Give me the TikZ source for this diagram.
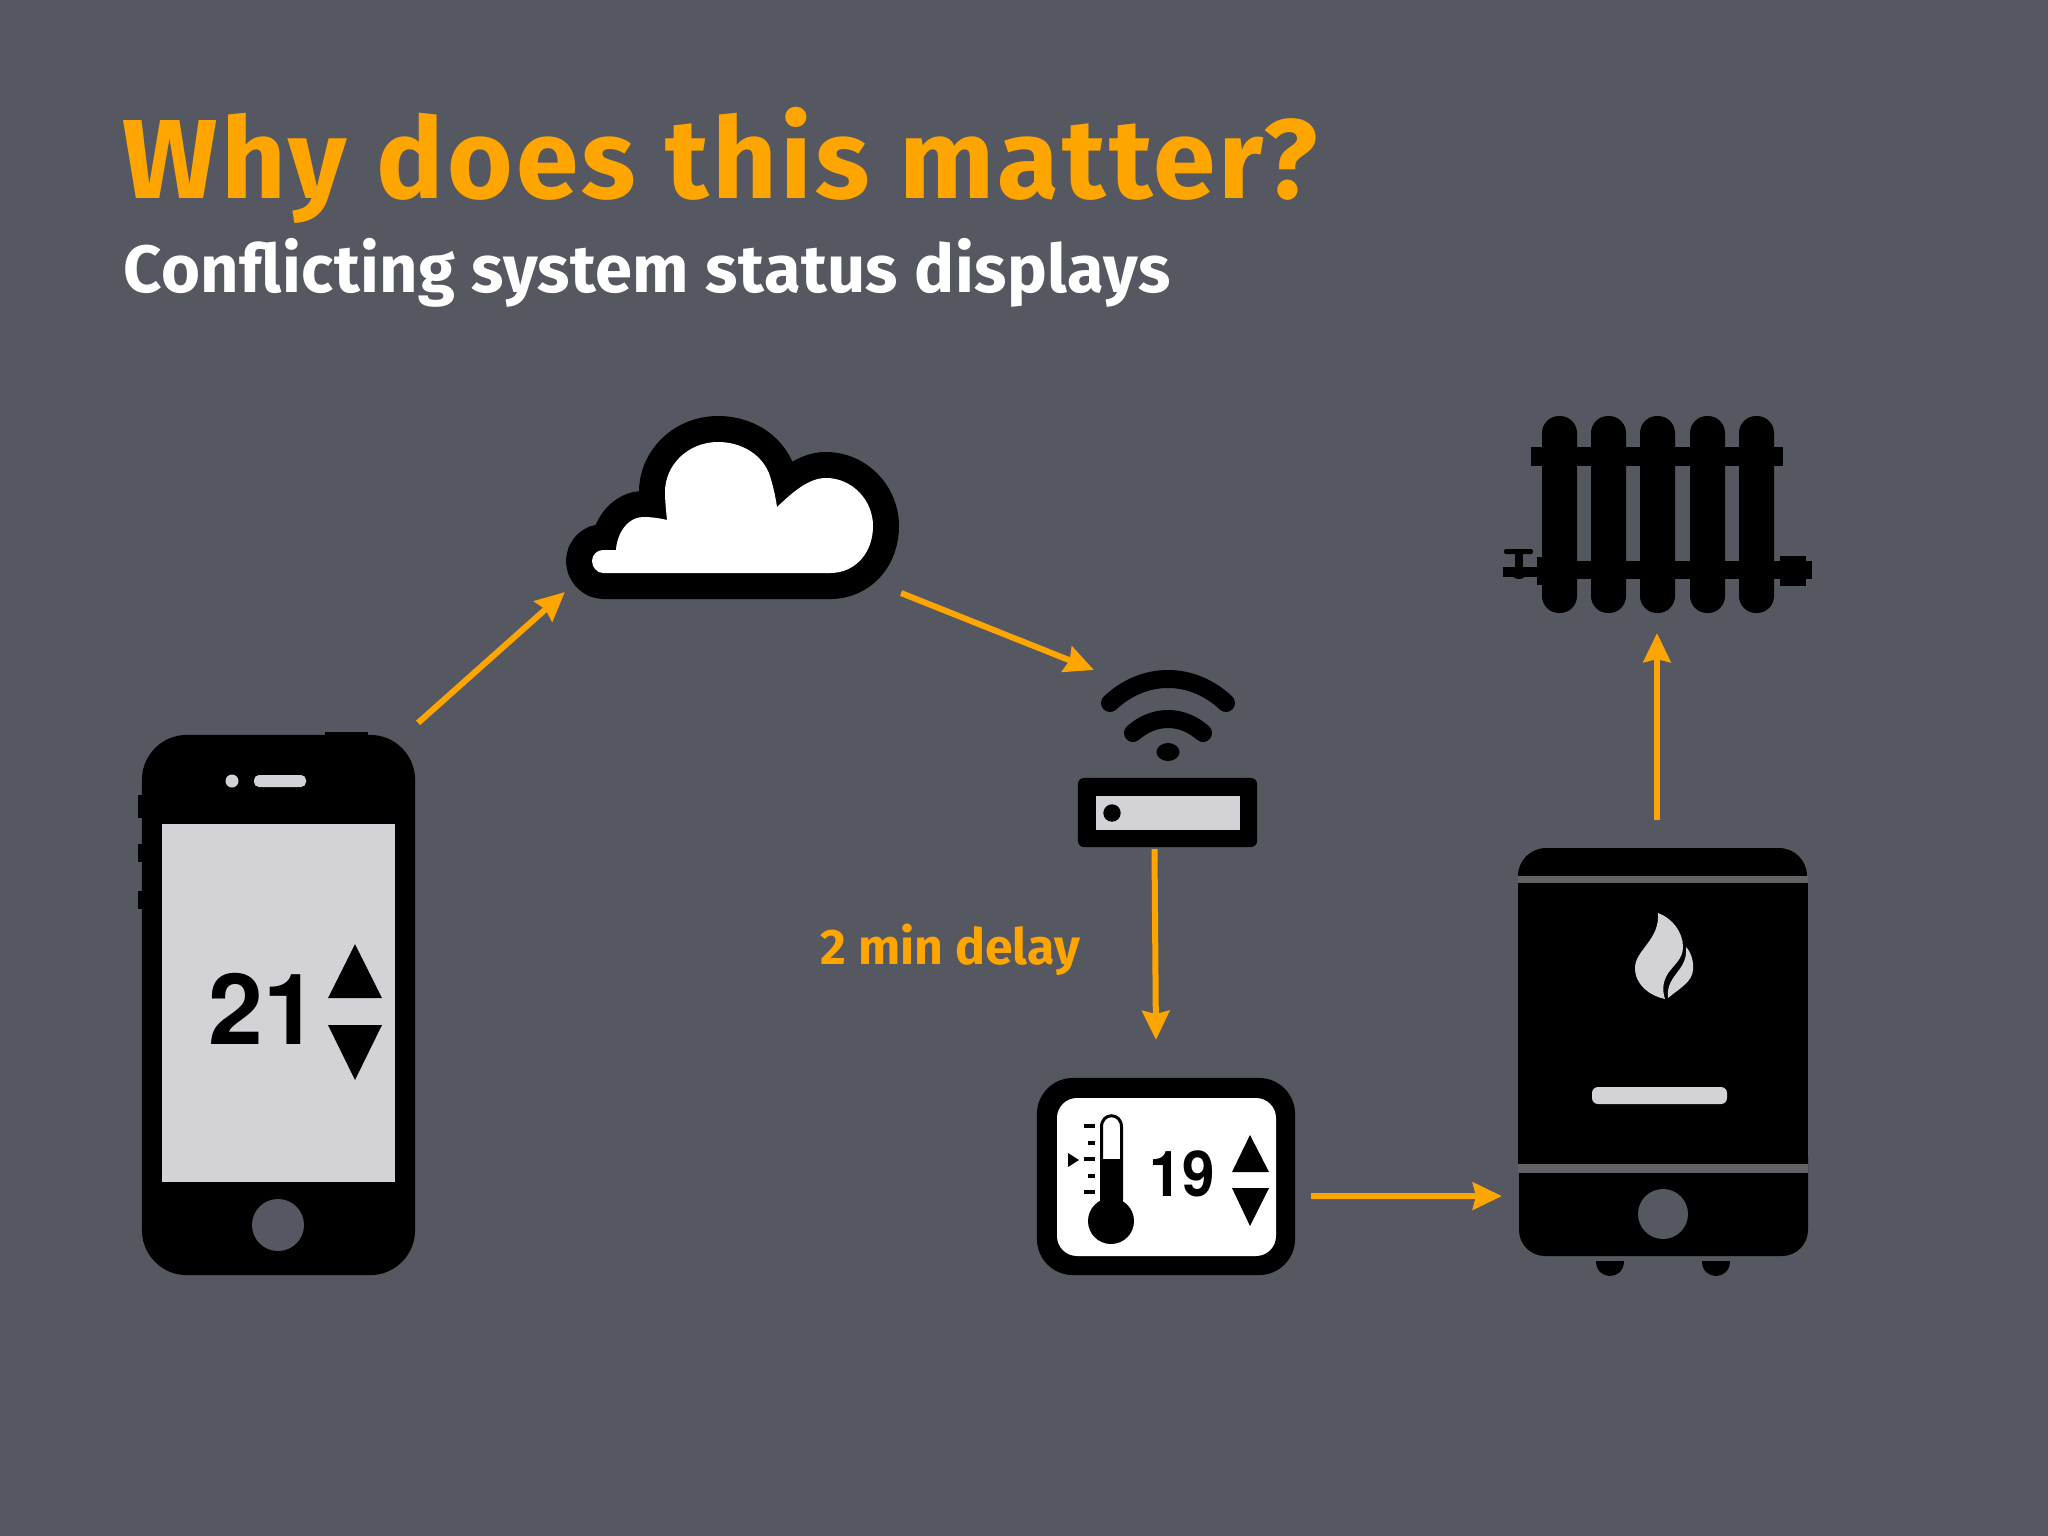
\documentclass[tikz,border=0pt]{standalone}
\usepackage{fontspec}
\usepackage{xcolor}
\usetikzlibrary{arrows.meta}
\setmainfont{Fira Sans}
\newfontfamily\digitfont{TeX Gyre Heros}
\definecolor{slate}{HTML}{555860}
\definecolor{amber}{HTML}{FFA500}
\definecolor{pale}{HTML}{D3D2D6}
\definecolor{seam}{HTML}{626366}
\tikzset{
    arrow/.style={-{Stealth[length=.29cm,width=.27cm,inset=.03cm]}, draw=amber, line width=.06cm},
    label/.style={anchor=base west, inner sep=0pt, font=\bfseries},
    slot/.style={inner sep=0pt, outer sep=0pt, minimum width=#1},
    wave/.style={draw=black, line width=.18cm, line cap=round},
    tick/.style={draw=black, line width=.035cm}
}
\begin{document}
\begin{tikzpicture}[x=.01cm, y=-.01cm]

    \fill [slate] (0,0) rectangle (2048,1536);

    \node [label, text=amber, font=\fontsize{32}{32}\selectfont\bfseries\addfontfeature{LetterSpace=2.8}] (title) at (122,198) {Why does this matter?};
    \node [label, text=white, font=\fontsize{19}{19}\selectfont\bfseries\addfontfeature{LetterSpace=.7}] (subtitle) at (123,292) {Conflicting system status displays};
    \node [label, text=amber, font=\fontsize{14.2}{14.2}\selectfont\bfseries] (delay) at (820,964) {2 min delay};

    \fill (325,732) rectangle (368,745);
    \fill (138,795) rectangle (146,818);
    \fill (138,844) rectangle (146,862);
    \fill (138,891) rectangle (146,909);
    \node [slot=2.73cm, minimum height=5.4cm, fill=black, rounded corners=.45cm] (phone) at (278.5,1005) {};
    \node [slot=2.33cm, minimum height=3.58cm, fill=pale] (screen) at (278.5,1003) {};
    \fill [pale] (232,781) circle (6.5);
    \fill [pale, rounded corners=.05cm] (254,775) rectangle (306,787);
    \fill [slate] (278,1225) circle (26);
    \node [label, text=black, font=\fontsize{28}{28}\digitfont\bfseries] (setpoint) at (208,1044) {21};
    \fill (355,944) -- (382,998) -- (328,998) -- cycle;
    \fill (355,1080) -- (382,1025) -- (328,1025) -- cycle;

    \node [slot=3.33cm, minimum height=1.83cm] (cloud) at (732.5,507.5) {};
    \draw [line width=.52cm, line join=round, postaction={fill=white, draw=none}]
        (830,573) .. controls (856,573) and (873,552) .. (873,526)
        .. controls (873,500) and (852,478) .. (826,478)
        .. controls (808,478) and (792,493) .. (777,507)
        .. controls (775,494) and (773,486) .. (770,476)
        .. controls (763,455) and (742,442) .. (718,442)
        .. controls (688,442) and (665,465) .. (665,492)
        .. controls (665,500) and (666,510) .. (667,520)
        .. controls (659,518) and (651,517) .. (643,517)
        .. controls (628,517) and (617,533) .. (616,550)
        -- (603,550) .. controls (597,550) and (592,555) .. (592,561)
        .. controls (592,567) and (597,573) .. (603,573) -- cycle;

    \node [slot=1.32cm, minimum height=.91cm] (wifi) at (1168,715.5) {};
    \draw [wave] (1110,703) .. controls (1126,688) and (1146,679) .. (1168,679)
        .. controls (1190,679) and (1210,688) .. (1226,703);
    \draw [wave] (1133,733) .. controls (1142,725) and (1154,719) .. (1168,719)
        .. controls (1182,719) and (1194,725) .. (1203,733);
    \fill (1168,752) ellipse (11.5 and 9);
    \node [slot=1.79cm, minimum height=.69cm, fill=black, rounded corners=.06cm] (router) at (1167.5,812.5) {};
    \fill [pale] (1096,796) rectangle (1240,830);
    \fill (1112,813) circle (8.7);

    \node [slot=2.58cm, minimum height=1.97cm, fill=black, rounded corners=.36cm] (stat) at (1166,1176.5) {};
    \fill [white, rounded corners=.2cm] (1057,1098) rectangle (1276,1256);
    \draw [line width=.03cm, fill=white] (1101.5,1200) -- (1101.5,1127)
        .. controls (1101.5,1112) and (1121.5,1112) .. (1121.5,1127) -- (1121.5,1200);
    \fill (1100,1159) rectangle (1123,1205);
    \fill (1111,1221) circle (23);
    \draw [tick] (1084,1126) -- (1095,1126);
    \draw [tick] (1088,1143) -- (1095,1143);
    \draw [tick] (1084,1159) -- (1095,1159);
    \draw [tick] (1088,1176) -- (1095,1176);
    \draw [tick] (1084,1192) -- (1095,1192);
    \fill (1079,1160) -- (1068,1153) -- (1068,1167) -- cycle;
    \node [label, text=black, font=\fontsize{18}{18}\digitfont\bfseries] (reading) at (1149,1196) {\scalebox{.92}[1]{19}};
    \fill (1250,1135) -- (1269,1172) -- (1232,1172) -- cycle;
    \fill (1250,1226) -- (1269,1188) -- (1232,1188) -- cycle;

    \fill [rounded corners=.28cm] (1518,848) rectangle (1807,910);
    \fill [rounded corners=.26cm] (1519,1130) rectangle (1808,1256);
    \fill [seam] (1518,876) rectangle (1808,883);
    \fill [seam] (1518,1164) rectangle (1808,1173);
    \node [slot=2.9cm, minimum height=2.81cm, fill=black] (boiler) at (1663,1023.5) {};
    \fill (1596,1261) .. controls (1596,1281) and (1624,1281) .. (1624,1261) -- cycle;
    \fill (1702,1261) .. controls (1702,1281) and (1730,1281) .. (1730,1261) -- cycle;
    \fill [slate] (1663,1214) circle (25);
    \fill [pale, rounded corners=.06cm] (1592,1087) rectangle (1727,1104);
    \fill [pale] (1658,913) .. controls (1672,918) and (1683,932) .. (1683,947)
        .. controls (1683,960) and (1672,966) .. (1667,975)
        .. controls (1663,982) and (1662,990) .. (1665,999)
        .. controls (1650,996) and (1635,985) .. (1635,968)
        .. controls (1635,950) and (1660,940) .. (1658,913) -- cycle;
    \fill [pale] (1686,947) .. controls (1691,952) and (1694,962) .. (1693,970)
        .. controls (1692,982) and (1680,988) .. (1668,998)
        .. controls (1667,988) and (1670,982) .. (1676,974)
        .. controls (1682,966) and (1687,960) .. (1686,947) -- cycle;

    \node [slot=3.1cm, minimum height=1.97cm] (radiator) at (1658,514.5) {};
    \fill [rounded corners=.17cm] (1542,416) rectangle (1577,613);
    \fill [rounded corners=.17cm] (1591,416) rectangle (1626,613);
    \fill [rounded corners=.17cm] (1640,416) rectangle (1675,613);
    \fill [rounded corners=.17cm] (1690,416) rectangle (1725,613);
    \fill [rounded corners=.17cm] (1739,416) rectangle (1774,613);
    \fill (1531,447) rectangle (1783,466);
    \fill (1537,561) rectangle (1812,579);
    \fill (1780,556) rectangle (1806,586);
    \fill (1537,557) rectangle (1545,585);
    \fill (1503,567) rectangle (1537,577);
    \fill [rounded corners=.02cm] (1504,549) rectangle (1533,554);
    \fill (1515,552) rectangle (1523,575);
    \fill (1519,573) ellipse (7.5 and 6);

    \draw [arrow] ([shift={(3,-12)}]phone.north east) to ([shift={(-1,-7)}]cloud.south west);
    \draw [arrow] ([shift={(2,-6)}]cloud.south east) to ([shift={(-8,0)}]wifi.north west);
    \draw [arrow] ([shift={(-13,2)}]router.south) to ([shift={(-10,-38)}]stat.north);
    \draw [arrow] ([shift={(16,19.5)}]stat.east) to ([shift={(-16,32)}]boiler.south west);
    \draw [arrow] ([shift={(-6,-63)}]boiler.north) to ([shift={(-1,20)}]radiator.south);

\end{tikzpicture}
\end{document}
